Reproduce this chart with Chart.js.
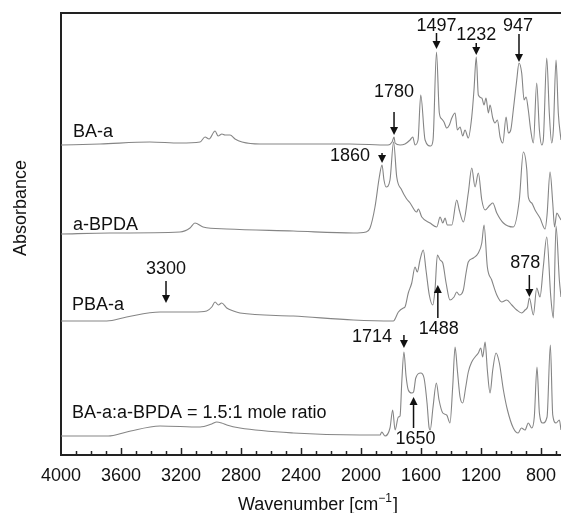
<!DOCTYPE html>
<html>
<head>
<meta charset="utf-8">
<title>FTIR spectra</title>
<script src="https://cdn.jsdelivr.net/npm/chart.js@4.4.0/dist/chart.umd.min.js"></script>
<style>
  html, body { margin: 0; padding: 0; background: #fff; }
  #wrap { width: 561px; height: 513px; }
</style>
</head>
<body>
<div id="wrap"><canvas id="ftir" width="561" height="513"></canvas></div>
<script>
// [wavenumber cm-1, absorbance a.u.] for each spectrum
const baA = [
  [4000, 0.00], [3740, 0.01], [3407, 0.03], [3207, 0.02], [3073, 0.03], [3040, 0.08], [3013, 0.06],
  [2973, 0.14], [2953, 0.09], [2927, 0.11], [2907, 0.10], [2873, 0.10], [2840, 0.06], [2793, 0.03],
  [2673, 0.01], [2407, 0.01], [2073, 0.01], [1820, 0.00], [1793, 0.03], [1780, 0.08], [1773, 0.02],
  [1740, 0.00], [1707, 0.01], [1673, 0.05], [1655, 0.08], [1640, 0.00], [1620, 0.05], [1602, 0.50],
  [1573, 0.05], [1535, -0.01], [1520, 0.05], [1497, 0.93], [1478, 0.32], [1462, 0.26], [1447, 0.23],
  [1429, 0.17], [1411, 0.20], [1395, 0.27], [1373, 0.32], [1358, 0.15], [1340, 0.18], [1322, 0.09],
  [1307, 0.15], [1285, 0.07], [1262, 0.28], [1247, 0.55], [1232, 0.88], [1218, 0.50], [1195, 0.47],
  [1180, 0.40], [1167, 0.47], [1151, 0.32], [1140, 0.40], [1122, 0.27], [1107, 0.22], [1091, 0.25],
  [1073, 0.08], [1055, 0.02], [1033, 0.28], [1018, 0.12], [1002, 0.15], [985, 0.35], [962, 0.65],
  [947, 0.82], [929, 0.72], [913, 0.45], [900, 0.48], [885, 0.35], [869, 0.15], [851, 0.02],
  [829, 0.62], [811, 0.15], [795, 0.00], [785, 0.05], [762, 0.87], [745, 0.32], [729, 0.02],
  [718, 0.15], [700, 0.85], [685, 0.32], [667, 0.05]
];

const aBPDA = [
  [4000, 0.00], [3673, 0.01], [3207, 0.02], [3140, 0.06], [3107, 0.11], [3053, 0.07], [2895, 0.05],
  [2451, 0.03], [2051, 0.01], [1967, 0.02], [1940, 0.06], [1907, 0.27], [1878, 0.57], [1860, 0.69],
  [1847, 0.54], [1833, 0.47], [1807, 0.54], [1783, 0.92], [1762, 0.57], [1729, 0.44], [1700, 0.36],
  [1673, 0.31], [1629, 0.22], [1618, 0.25], [1595, 0.17], [1540, 0.11], [1495, 0.07], [1473, 0.17],
  [1455, 0.11], [1440, 0.16], [1425, 0.09], [1395, 0.09], [1362, 0.34], [1345, 0.24], [1318, 0.12],
  [1285, 0.41], [1262, 0.66], [1240, 0.47], [1218, 0.61], [1195, 0.34], [1173, 0.24], [1140, 0.29],
  [1122, 0.31], [1095, 0.21], [1051, 0.11], [985, 0.07], [945, 0.34], [918, 0.82], [895, 0.64],
  [885, 0.37], [862, 0.31], [840, 0.24], [807, 0.16], [773, 0.05], [760, 0.19], [740, 0.62],
  [722, 0.31], [710, 0.07], [695, 0.21], [678, 0.17], [667, 0.14]
];

const pbaA = [
  [4000, 0.00], [3695, 0.00], [3562, 0.04], [3340, 0.09], [3118, 0.09], [3029, 0.10], [2995, 0.14],
  [2973, 0.19], [2951, 0.16], [2929, 0.18], [2895, 0.13], [2851, 0.10], [2807, 0.08], [2451, 0.05],
  [2051, 0.01], [1785, 0.00], [1751, 0.09], [1718, 0.13], [1707, 0.14], [1685, 0.28], [1662, 0.38],
  [1640, 0.54], [1625, 0.49], [1607, 0.61], [1585, 0.71], [1567, 0.51], [1545, 0.26], [1522, 0.16],
  [1507, 0.31], [1491, 0.66], [1473, 0.61], [1455, 0.58], [1433, 0.38], [1407, 0.21], [1380, 0.24],
  [1362, 0.29], [1345, 0.26], [1318, 0.31], [1300, 0.48], [1285, 0.59], [1251, 0.63], [1218, 0.68],
  [1195, 0.78], [1180, 0.96], [1158, 0.54], [1129, 0.41], [1095, 0.26], [1062, 0.19], [1029, 0.21],
  [995, 0.16], [962, 0.11], [929, 0.08], [907, 0.11], [890, 0.14], [878, 0.23], [851, 0.06],
  [829, 0.33], [807, 0.24], [785, 0.54], [762, 0.84], [735, 0.24], [718, 0.03], [700, 0.95],
  [678, 0.41], [667, 0.24]
];

const blend = [
  [4000, 0.00], [3685, 0.00], [3562, 0.04], [3340, 0.10], [3073, 0.09], [2995, 0.12], [2962, 0.14],
  [2929, 0.13], [2895, 0.11], [2807, 0.08], [2451, 0.03], [2007, 0.01], [1873, 0.01], [1862, 0.04],
  [1840, 0.00], [1807, 0.08], [1789, 0.26], [1773, 0.06], [1751, 0.19], [1740, 0.20], [1728, 0.55],
  [1714, 0.84], [1700, 0.60], [1685, 0.46], [1662, 0.43], [1650, 0.44], [1635, 0.58], [1602, 0.63],
  [1580, 0.58], [1560, 0.33], [1547, 0.09], [1539, 0.06], [1520, 0.29], [1498, 0.53], [1480, 0.36],
  [1455, 0.23], [1429, 0.21], [1407, 0.13], [1389, 0.49], [1373, 0.89], [1358, 0.66], [1340, 0.39],
  [1322, 0.33], [1302, 0.49], [1285, 0.64], [1262, 0.74], [1240, 0.79], [1218, 0.83], [1202, 0.88],
  [1189, 0.79], [1173, 0.94], [1158, 0.66], [1140, 0.43], [1122, 0.66], [1100, 0.83], [1078, 0.73],
  [1051, 0.46], [1024, 0.26], [985, 0.08], [953, 0.03], [931, 0.08], [907, 0.06], [885, 0.13],
  [862, 0.08], [845, 0.19], [827, 0.69], [811, 0.23], [789, 0.13], [760, 0.19], [738, 0.91],
  [722, 0.21], [700, 0.13], [678, 0.16], [667, 0.06]
];

const seriesNames = ['BA-a', 'a-BPDA', 'PBA-a', 'BA-a:a-BPDA = 1.5:1 mole ratio'];
const seriesData = [baA, aBPDA, pbaA, blend];
// vertical stacking of the spectra
const seriesOffset = [3.10, 2.21, 1.34, 0.19];

const xMin = 667, xMax = 4000;
const tickLabels = [4000, 3600, 3200, 2800, 2400, 2000, 1600, 1200, 800];

// band assignments: [wavenumber, arrow tail, arrow tip]
const bands = [
  [1497, 4.22, 4.06], [1232, 4.12, 4.00], [947, 4.21, 3.93], [1780, 3.43, 3.20],
  [1860, 3.02, 2.92], [3300, 1.74, 1.52], [878, 1.80, 1.58], [1488, 1.37, 1.70],
  [1714, 1.20, 1.07], [1650, 0.27, 0.58]
];

const FONT = '"Liberation Sans", Arial, Helvetica, sans-serif';
const INK = '#111';

// label offset (px) from each arrow tail
const bandTextOffset = {
  1497: [0, -7], 1232: [0, -8], 947: [-1, -8], 1780: [0, -20], 1860: [-32, 3],
  3300: [0, -12], 878: [-4, -12], 1488: [1, 11], 1714: [-32, 2], 1650: [2, 11]
};
const nameSpots = [[73, 132], [73, 225], [72, 305], [72, 413]];

const decor = {
  id: 'decor',
  afterDraw(chart) {
    const { ctx, chartArea: a, scales: { x, y } } = chart;
    ctx.save();

    // top of frame
    ctx.strokeStyle = '#222';
    ctx.lineWidth = 2;
    ctx.beginPath();
    ctx.moveTo(a.left - 1, a.top);
    ctx.lineTo(a.right, a.top);
    ctx.stroke();

    // inward tick marks, long every 400
    ctx.lineWidth = 1.5;
    for (let v = 700; v < xMax; v += 100) {
      const px = Math.round(x.getPixelForValue(v)) + 0.5;
      const len = tickLabels.includes(v) ? 7 : 4;
      ctx.beginPath();
      ctx.moveTo(px, a.bottom);
      ctx.lineTo(px, a.bottom - len);
      ctx.stroke();
    }

    ctx.fillStyle = INK;
    ctx.font = '18px ' + FONT;
    ctx.textBaseline = 'middle';

    // spectrum names
    ctx.textAlign = 'left';
    seriesNames.forEach((n, i) => ctx.fillText(n, nameSpots[i][0], nameSpots[i][1]));

    // band arrows
    ctx.textAlign = 'center';
    ctx.strokeStyle = INK;
    bands.forEach(([wn, tail, tip]) => {
      const px = x.getPixelForValue(wn);
      const y0 = y.getPixelForValue(tail);
      const y1 = y.getPixelForValue(tip);
      const dir = y1 > y0 ? 1 : -1;
      ctx.lineWidth = 1.5;
      ctx.beginPath();
      ctx.moveTo(px, y0);
      ctx.lineTo(px, y1 - dir * 6);
      ctx.stroke();
      ctx.beginPath();
      ctx.moveTo(px, y1);
      ctx.lineTo(px - 4, y1 - dir * 8);
      ctx.lineTo(px + 4, y1 - dir * 8);
      ctx.closePath();
      ctx.fill();
      const off = bandTextOffset[wn];
      ctx.fillText(String(wn), px + off[0], y0 + off[1]);
    });

    // axis titles
    ctx.save();
    ctx.translate(21, 208);
    ctx.rotate(-Math.PI / 2);
    ctx.fillText('Absorbance', 0, 0);
    ctx.restore();

    const main = 'Wavenumber [cm', sup = '\u22121', tailTxt = ']';
    ctx.font = '18px ' + FONT;
    const w1 = ctx.measureText(main).width, w3 = ctx.measureText(tailTxt).width;
    ctx.font = '12px ' + FONT;
    const w2 = ctx.measureText(sup).width;
    let tx = 318 - (w1 + w2 + w3 + 1) / 2;
    ctx.textAlign = 'left';
    ctx.font = '18px ' + FONT;
    ctx.fillText(main, tx, 505);
    ctx.font = '12px ' + FONT;
    ctx.fillText(sup, tx + w1, 499);
    ctx.font = '18px ' + FONT;
    ctx.fillText(tailTxt, tx + w1 + w2 + 1, 505);

    ctx.restore();
  }
};

const datasets = seriesData.map((pts, i) => ({
  label: seriesNames[i],
  data: pts.map(p => ({ x: p[0], y: p[1] + seriesOffset[i] })),
  borderColor: '#858585',
  borderWidth: 1.1,
  pointRadius: 0,
  fill: false,
  cubicInterpolationMode: 'monotone'
}));

new Chart(document.getElementById('ftir'), {
  type: 'line',
  data: { datasets: datasets },
  options: {
    responsive: false,
    animation: false,
    layout: { padding: { top: 13, right: 0, left: 0, bottom: 0 } },
    plugins: { legend: { display: false }, tooltip: { enabled: false } },
    scales: {
      x: {
        type: 'linear',
        reverse: true,
        min: xMin,
        max: xMax,
        afterFit: s => {
          s.height = 58;
          s.paddingLeft = 0;
          s.paddingRight = 0;
        },
        grid: { display: false, drawTicks: false },
        border: { display: true, color: '#222', width: 2 },
        ticks: {
          stepSize: 100,
          autoSkip: false,
          maxRotation: 0,
          padding: 10,
          color: INK,
          font: { family: FONT, size: 18 },
          callback: v => (tickLabels.includes(v) ? String(v) : '')
        }
      },
      y: {
        min: 0,
        max: 4.42,
        afterFit: s => { s.width = 61; },
        grid: { display: false, drawTicks: false },
        border: { display: true, color: '#222', width: 2 },
        ticks: { display: false }
      }
    }
  },
  plugins: [decor]
});
</script>
</body>
</html>
